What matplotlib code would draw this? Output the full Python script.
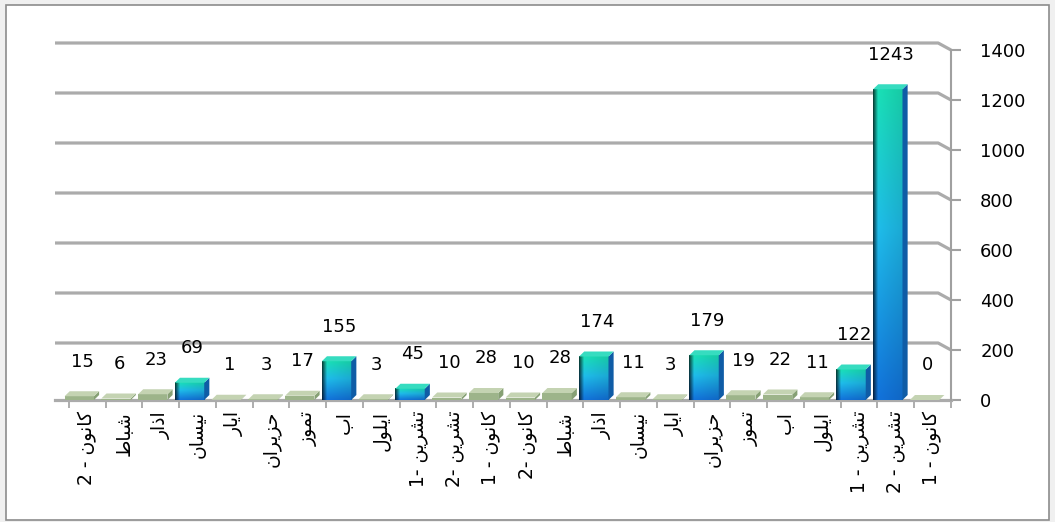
import numpy as np
import matplotlib.pyplot as plt
from matplotlib.patches import Polygon, Rectangle

labels = ["كانون 2 -", "شباط", "اذار", "نيسان", "ايار", "حزيران", "تموز", "اب",
          "ايلول", "تشرين 1-", "تشرين 2-", "كانون 1 -", "كانون 2-", "شباط", "اذار",
          "نيسان", "ايار", "حزيران", "تموز", "اب", "ايلول", "تشرين 1 -", "تشرين 2 -",
          "كانون 1 -"]
values = [15, 6, 23, 69, 1, 3, 17, 155, 3, 45, 10, 28, 10, 28, 174, 11, 3, 179,
          19, 22, 11, 122, 1243, 0]
yticks = [0, 200, 400, 600, 800, 1000, 1200, 1400]

# arabic presentation forms: isolated, final, initial, medial
FORMS = {
    'ا': ('\uFE8D', '\uFE8E', None, None),
    'ب': ('\uFE8F', '\uFE90', '\uFE91', '\uFE92'),
    'ت': ('\uFE95', '\uFE96', '\uFE97', '\uFE98'),
    'ح': ('\uFEA1', '\uFEA2', '\uFEA3', '\uFEA4'),
    'ذ': ('\uFEAB', '\uFEAC', None, None),
    'ر': ('\uFEAD', '\uFEAE', None, None),
    'ز': ('\uFEAF', '\uFEB0', None, None),
    'س': ('\uFEB1', '\uFEB2', '\uFEB3', '\uFEB4'),
    'ش': ('\uFEB5', '\uFEB6', '\uFEB7', '\uFEB8'),
    'ط': ('\uFEC1', '\uFEC2', '\uFEC3', '\uFEC4'),
    'ك': ('\uFED9', '\uFEDA', '\uFEDB', '\uFEDC'),
    'ل': ('\uFEDD', '\uFEDE', '\uFEDF', '\uFEE0'),
    'م': ('\uFEE1', '\uFEE2', '\uFEE3', '\uFEE4'),
    'ن': ('\uFEE5', '\uFEE6', '\uFEE7', '\uFEE8'),
    'و': ('\uFEED', '\uFEEE', None, None),
    'ي': ('\uFEF1', '\uFEF2', '\uFEF3', '\uFEF4'),
}


def shape(word):
    out = []
    for i, ch in enumerate(word):
        f = FORMS.get(ch)
        if f is None:
            out.append(ch)
            continue
        prev = i > 0 and word[i - 1] in FORMS and FORMS[word[i - 1]][2] is not None
        nxt = i < len(word) - 1 and word[i + 1] in FORMS and f[2] is not None
        if prev and nxt:
            out.append(f[3])
        elif prev:
            out.append(f[1])
        elif nxt:
            out.append(f[2])
        else:
            out.append(f[0])
    return ''.join(out[::-1])


def visual(lbl):
    parts = lbl.split(' ', 1)
    word = shape(parts[0])
    if len(parts) > 1:
        return parts[1] + ' ' + word
    return word


def front_img(n=64, m=32):
    t = np.linspace(0, 1, n)
    stops = np.array([[0.07, 0.45, 0.86], [0.12, 0.74, 0.92], [0.10, 0.88, 0.72]])
    col = np.stack([np.interp(t, [0, 0.55, 1], stops[:, c]) for c in range(3)], axis=-1)
    col = col[:, None, :]
    s = np.linspace(0, 1, m)
    shade = np.where(s < 0.15, 0.3 + s / 0.15 * 0.65, 1.0 - 0.12 * (s - 0.15))
    return np.clip(col * shade[None, :, None], 0, 1)


fig = plt.figure(figsize=(10.55, 5.22), dpi=100)
fig.patch.set_facecolor('#f0f0f0')
fig.patches.append(Rectangle((6 / 1055, 2 / 522), 1043 / 1055, 515 / 522,
                             transform=fig.transFigure, fc='white', ec='#8c8c8c',
                             lw=1.2, zorder=-10))

ax = fig.add_axes([55 / 1055, 122 / 522, 896 / 1055, 350 / 522])
ax.set_facecolor('none')
xl, xr = -0.38, 24.0

# back wall gridlines with a slanted end
for v in yticks[1:]:
    ax.plot([xl, 23.65, xr], [v + 28, v + 28, v], color='#ababab', lw=2.3,
            solid_capstyle='butt', zorder=1, clip_on=False)
ax.plot([xl, xr], [0, 0], color='#ababab', lw=2.3, zorder=2, clip_on=False)

img = front_img()
dx, dy = 0.14, 20
w = 0.8
for k, v in enumerate(values):
    x0 = k - 0.12
    if v < 40:
        front, side, topc = '#9db48a', '#86a074', '#c4d3b2'
        ax.add_patch(Rectangle((x0, 0), w, v, fc=front, ec='none', zorder=3))
    else:
        side, topc = '#0f5ca6', '#36dcc0'
        ax.imshow(img, extent=[x0, x0 + w, 0, v], origin='lower', aspect='auto',
                  interpolation='bilinear', zorder=3)
    ax.add_patch(Polygon([(x0 + w, 0), (x0 + w, v), (x0 + w + dx, v + dy),
                          (x0 + w + dx, dy)], closed=True, fc=side, ec='none', zorder=3))
    ax.add_patch(Polygon([(x0, v), (x0 + w, v), (x0 + w + dx, v + dy),
                          (x0 + dx, v + dy)], closed=True, fc=topc, ec='none', zorder=3))
    ax.annotate(str(v), (k + 0.36, v), xytext=(0, 25), textcoords='offset points',
                ha='center', va='center', fontsize=13, zorder=5)

ax.set_xlim(xl, xr)
ax.set_ylim(0, 1400)

for s in ['top', 'left', 'bottom']:
    ax.spines[s].set_visible(False)
ax.spines['right'].set_color('#a0a0a0')
ax.spines['right'].set_linewidth(1.5)

ax.yaxis.tick_right()
ax.set_yticks(yticks)
ax.tick_params(axis='y', length=7, width=1.5, color='#a0a0a0', labelsize=13, pad=14)

ax.set_xticks(np.arange(25))
ax.set_xticklabels([])
ax.tick_params(axis='x', which='major', length=6, width=1.2, color='#a0a0a0')
ax.set_xticks(np.arange(24) + 0.5, minor=True)
ax.set_xticklabels([visual(l) for l in labels], minor=True, rotation=90,
                   fontsize=13.5, family='DejaVu Sans')
ax.tick_params(axis='x', which='minor', length=0, pad=8)

fig.savefig('out.png', dpi=100, facecolor=fig.get_facecolor())
